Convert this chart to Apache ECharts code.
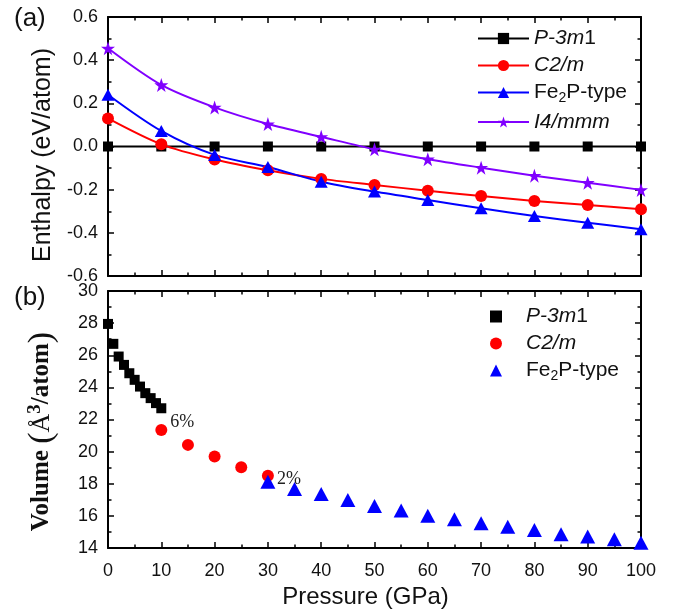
<!DOCTYPE html>
<html>
<head>
<meta charset="utf-8">
<script src="https://cdn.jsdelivr.net/npm/echarts@6/dist/echarts.min.js"></script>
<style>html,body{margin:0;padding:0;background:#fff;}#c{width:673px;height:616px;}</style>
</head>
<body>
<div id="c"></div>
<script>
// ---- Data: panel (a) enthalpy ----
var pressureA = [0, 10, 20, 30, 40, 50, 60, 70, 80, 90, 100];
var hP3m1 = [0, 0, 0, 0, 0, 0, 0, 0, 0, 0, 0];
var hC2m = [0.13, 0.01, -0.06, -0.11, -0.15, -0.178, -0.205, -0.229, -0.252, -0.271, -0.291];
var hFe2P = [0.24, 0.072, -0.039, -0.095, -0.163, -0.209, -0.248, -0.286, -0.322, -0.353, -0.383];
var hI4mmm = [0.455, 0.285, 0.181, 0.104, 0.045, -0.013, -0.059, -0.098, -0.135, -0.168, -0.201];

// ---- Data: panel (b) volume ----
var pressureP3m1 = [0, 1, 2, 3, 4, 5, 6, 7, 8, 9, 10];
var vP3m1 = [27.95, 26.71, 25.92, 25.40, 24.88, 24.47, 24.05, 23.64, 23.33, 23.02, 22.70];
var pressureC2m = [10, 15, 20, 25, 30];
var vC2m = [21.35, 20.42, 19.69, 19.03, 18.5];
var pressureFe2P = [30, 35, 40, 45, 50, 55, 60, 65, 70, 75, 80, 85, 90, 95, 100];
var vFe2P = [18.13, 17.67, 17.36, 16.99, 16.62, 16.33, 16.01, 15.79, 15.54, 15.33, 15.12, 14.86, 14.71, 14.54, 14.33];
var volumeNotes = {10: '6%', 30: '2%'};

var namesA = ['P-3m1', 'C2/m', 'Fe2P-type', 'I4/mmm'];
var namesB = ['P-3m1 ', 'C2/m ', 'Fe2P-type '];

var starPath = 'path://M50,0 L61.8,35.4 L99,35.4 L69,57.3 L80.3,92.7 L50,70.8 L19.7,92.7 L31,57.3 L1,35.4 L38.2,35.4 Z';

function zip(xs, ys) { return xs.map(function (x, i) { return [x, ys[i]]; }); }

var FONT = 'Liberation Sans';
function legendRich() {
  return {
    i: { fontStyle: 'italic', fontSize: 21, fontFamily: FONT, color: '#111' },
    t: { fontSize: 21, fontFamily: FONT, color: '#111' },
    s: { fontSize: 14, fontFamily: FONT, color: '#111', padding: [12, 0, 0, 0] }
  };
}
function legendFmt(name) {
  var n = name.trim();
  if (n === 'P-3m1') return '{i|P-3m}{t|1}';
  if (n === 'C2/m') return '{i|C2/m}';
  if (n === 'Fe2P-type') return '{t|Fe}{s|2}{t|P-type}';
  if (n === 'I4/mmm') return '{i|I4/mmm}';
  return n;
}

function axisLine() { return { show: true, onZero: false, lineStyle: { color: '#000', width: 2 } }; }
function tickIn() { return { show: true, inside: true, length: 6, lineStyle: { color: '#000', width: 1.5 } }; }
function minorIn() { return { show: true, splitNumber: 2, length: 3.5, lineStyle: { color: '#000', width: 1.5 } }; }
function tickLabel() { return { fontFamily: FONT, fontSize: 18, color: '#111' }; }

function xAx(grid, pos, labels, extra) {
  var a = {
    type: 'value', gridIndex: grid, position: pos, min: 0, max: 100, interval: 10,
    axisLine: axisLine(), axisTick: tickIn(), minorTick: minorIn(), splitLine: { show: false },
    axisLabel: labels ? Object.assign({ show: true, margin: 14 }, tickLabel()) : { show: false }
  };
  return Object.assign(a, extra || {});
}
function yAx(grid, pos, min, max, interval, labels, extra) {
  var a = {
    type: 'value', gridIndex: grid, position: pos, min: min, max: max, interval: interval,
    axisLine: axisLine(), axisTick: tickIn(), minorTick: minorIn(), splitLine: { show: false },
    axisLabel: labels ? Object.assign({ show: true, margin: 10 }, tickLabel(), labels) : { show: false }
  };
  return Object.assign(a, extra || {});
}

var chart = echarts.init(document.getElementById('c'), null, { renderer: 'canvas' });
var option = {
  backgroundColor: '#fff',
  animation: false,
  textStyle: { fontFamily: FONT },
  grid: [
    { left: 108, top: 17, width: 533, height: 259 },
    { left: 108, top: 291, width: 533, height: 257 },
    { left: 108, top: 17, width: 533, height: 259 },
    { left: 108, top: 291, width: 533, height: 257 }
  ],
  xAxis: [
    xAx(0, 'bottom', false),
    xAx(1, 'bottom', true, {
      name: 'Pressure (GPa)', nameLocation: 'middle', nameGap: 37,
      nameTextStyle: { fontFamily: FONT, fontSize: 24, color: '#111', padding: [0, 18, 0, 0] }
    }),
    xAx(2, 'top', false),
    xAx(3, 'top', false)
  ],
  yAxis: [
    yAx(0, 'left', -0.6, 0.6, 0.2, { formatter: function (v) { return v.toFixed(1); } }, {
      name: 'Enthalpy (eV/atom)', nameLocation: 'middle', nameGap: 47,
      nameTextStyle: { fontFamily: FONT, fontSize: 25, color: '#111', padding: [0, 17, 0, 0] }
    }),
    yAx(1, 'left', 14, 30, 2, {}, {
      name: '{v|Volume }{p|(}{a|Å}{u|3}{v|/atom}{p|)}', nameLocation: 'middle', nameGap: 49,
      nameTextStyle: {
        color: '#111', padding: [0, 24, 0, 0],
        rich: {
          v: { fontFamily: 'Liberation Serif', fontWeight: 'bold', fontSize: 25, color: '#111' },
          p: { fontFamily: 'Liberation Serif', fontSize: 34, color: '#111' },
          a: { fontFamily: 'Liberation Serif', fontSize: 26, color: '#111' },
          u: { fontFamily: 'Liberation Serif', fontWeight: 'bold', fontSize: 19, color: '#111', padding: [0, 0, 14, 0] }
        }
      }
    }),
    yAx(2, 'right', -0.6, 0.6, 0.2, false),
    yAx(3, 'right', 14, 30, 2, false)
  ],
  legend: [
    {
      data: namesA, orient: 'vertical', left: 472, top: 23, itemWidth: 51, itemHeight: 14, itemGap: 6,
      formatter: legendFmt, textStyle: { fontSize: 21, color: '#111', rich: legendRich() },
      selectedMode: false
    },
    {
      data: namesB, orient: 'vertical', left: 485, top: 301, itemWidth: 12, itemHeight: 12, itemGap: 6,
      formatter: legendFmt, textStyle: { fontSize: 21, color: '#111', padding: [0, 0, 0, 19], rich: legendRich() },
      selectedMode: false
    }
  ],
  graphic: [
    { type: 'text', left: 14, top: 6, style: { text: '(a)', font: '26px "Liberation Sans"', fill: '#111' } },
    { type: 'text', left: 14, top: 285, style: { text: '(b)', font: '26px "Liberation Sans"', fill: '#111' } }
  ],
  series: [
    { name: 'P-3m1', type: 'line', xAxisIndex: 0, yAxisIndex: 0, data: zip(pressureA, hP3m1),
      symbol: 'rect', symbolSize: 10, itemStyle: { color: '#000' }, lineStyle: { color: '#000', width: 2 } },
    { name: 'C2/m', type: 'line', xAxisIndex: 0, yAxisIndex: 0, data: zip(pressureA, hC2m), smooth: 0.3,
      symbol: 'circle', symbolSize: 12, itemStyle: { color: '#ff0000' }, lineStyle: { color: '#ff0000', width: 2 } },
    { name: 'Fe2P-type', type: 'line', xAxisIndex: 0, yAxisIndex: 0, data: zip(pressureA, hFe2P), smooth: 0.3,
      symbol: 'triangle', symbolSize: [13, 12], itemStyle: { color: '#0000ff' }, lineStyle: { color: '#0000ff', width: 2 } },
    { name: 'I4/mmm', type: 'line', xAxisIndex: 0, yAxisIndex: 0, data: zip(pressureA, hI4mmm), smooth: 0.3,
      symbol: starPath, symbolSize: 14, itemStyle: { color: '#8000ff' }, lineStyle: { color: '#8000ff', width: 2 } },

    { name: 'P-3m1 ', type: 'scatter', xAxisIndex: 1, yAxisIndex: 1, data: zip(pressureP3m1, vP3m1),
      symbol: 'rect', symbolSize: 10, itemStyle: { color: '#000', opacity: 1 } },
    { name: 'C2/m ', type: 'scatter', xAxisIndex: 1, yAxisIndex: 1,
      data: pressureC2m.map(function (p, i) {
        var d = { value: [p, vC2m[i]] };
        if (volumeNotes[p]) {
          d.label = { show: true, formatter: volumeNotes[p], position: 'right', distance: 3,
            offset: p === 10 ? [0, -8] : [0, 4],
            fontFamily: 'Liberation Serif', fontSize: 18, color: '#222' };
        }
        return d;
      }),
      symbol: 'circle', symbolSize: 12, itemStyle: { color: '#ff0000', opacity: 1 } },
    { name: 'Fe2P-type ', type: 'scatter', xAxisIndex: 1, yAxisIndex: 1, data: zip(pressureFe2P, vFe2P),
      symbol: 'triangle', symbolSize: [15, 14], itemStyle: { color: '#0000ff', opacity: 1 } }
  ]
};
chart.setOption(option);
</script>
</body>
</html>
